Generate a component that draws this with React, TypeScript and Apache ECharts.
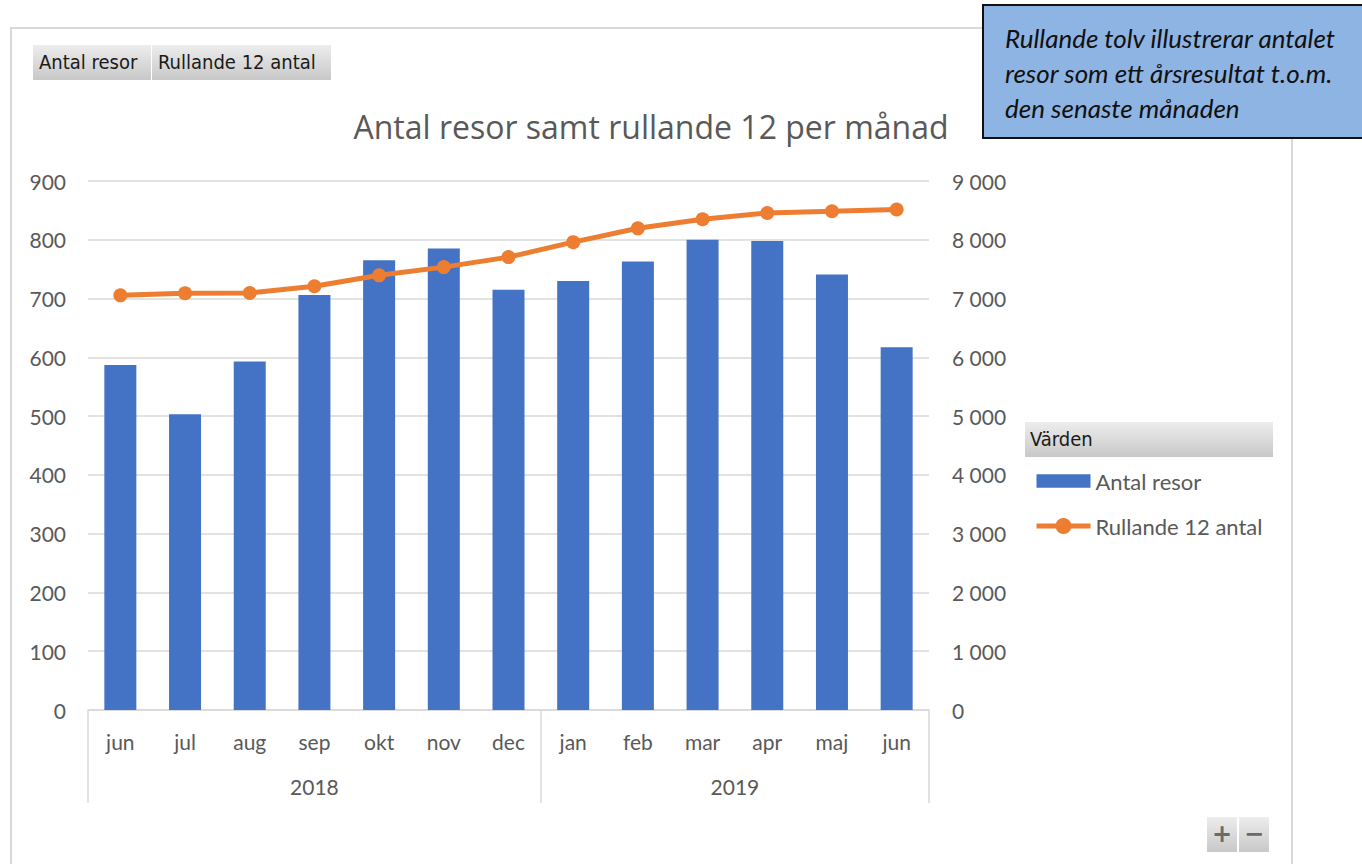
import React, { useEffect, useRef } from "react";
import * as echarts from "echarts";

const months = ["jun", "jul", "aug", "sep", "okt", "nov", "dec", "jan", "feb", "mar", "apr", "maj", "jun"];
const years = ["2018", "2019"];
const yearSpans = [7, 6];
const antalResor = [587, 503, 593, 706, 765, 785, 715, 730, 763, 800, 798, 741, 617];
const rullande12 = [7055, 7090, 7095, 7210, 7395, 7535, 7705, 7960, 8195, 8350, 8455, 8485, 8515];
const leftTicks = { min: 0, max: 900, interval: 100 };
const rightTicks = { min: 0, max: 9000, interval: 1000 };

const FONT = "Lato, 'Open Sans', sans-serif";
const GRAY = "#595959";
const LINE = "#d9d9d9";
const BTN_FONT = "20px 'DejaVu Sans Condensed', 'DejaVu Sans', sans-serif";

export default function App() {
  const ref = useRef<HTMLDivElement>(null);
  useEffect(() => {
    document.body.style.margin = "0";
    const chart = echarts.init(ref.current!, null, { renderer: "svg" });
    const bounds: number[] = [0];
    yearSpans.forEach((s) => bounds.push(bounds[bounds.length - 1] + s));
    const centers = yearSpans.map((s, i) => bounds[i] + s / 2);
    const btnGrad = () =>
      new echarts.graphic.LinearGradient(0, 0, 0, 1, [
        { offset: 0, color: "#ededed" },
        { offset: 1, color: "#c8c8c8" },
      ]);
    const option: any = {
      animation: false,
      textStyle: { fontFamily: FONT },
      grid: { left: 88, right: 433, top: 181, bottom: 154, containLabel: false },
      xAxis: [
        {
          type: "category",
          data: months,
          position: "bottom",
          axisLine: { lineStyle: { color: LINE, width: 1.5 } },
          axisTick: { show: false },
          axisLabel: { color: GRAY, fontSize: 21, margin: 21, fontFamily: FONT },
        },
        {
          type: "value",
          min: 0,
          max: months.length,
          position: "bottom",
          offset: 0,
          axisLine: { show: false },
          splitLine: { show: false },
          axisTick: {
            show: true,
            length: 93,
            customValues: bounds,
            lineStyle: { color: LINE, width: 1.5 },
          },
          axisLabel: {
            customValues: centers,
            margin: 66,
            color: GRAY,
            fontSize: 21,
            fontFamily: FONT,
            formatter: (v: number) => {
              const i = centers.findIndex((c) => Math.abs(c - v) < 1e-6);
              return i >= 0 ? years[i] : "";
            },
          },
        },
      ],
      yAxis: [
        {
          type: "value",
          ...leftTicks,
          axisLine: { show: false },
          axisTick: { show: false },
          splitLine: { lineStyle: { color: LINE, width: 1.5 } },
          axisLabel: { color: GRAY, fontSize: 21, margin: 22, fontFamily: FONT },
        },
        {
          type: "value",
          ...rightTicks,
          axisLine: { show: false },
          axisTick: { show: false },
          splitLine: { show: false },
          axisLabel: {
            color: GRAY,
            fontSize: 21,
            margin: 23,
            fontFamily: FONT,
            formatter: (v: number) => String(v).replace(/\B(?=(\d{3})+(?!\d))/g, " "),
          },
        },
      ],
      legend: {
        orient: "vertical",
        left: 1034,
        top: 470,
        padding: 0,
        itemWidth: 54,
        itemHeight: 20,
        itemGap: 23,
        symbolKeepAspect: true,
        lineStyle: { width: 5 },
        textStyle: { color: GRAY, fontSize: 22, fontFamily: FONT, lineHeight: 20 },
        data: [
          { name: "Antal resor", icon: "path://M0,0H52V13H0Z" },
          { name: "Rullande 12 antal" },
        ],
      },
      series: [
        {
          name: "Antal resor",
          type: "bar",
          data: antalResor,
          barWidth: 32,
          itemStyle: { color: "#4472C4" },
          xAxisIndex: 0,
          yAxisIndex: 0,
        },
        {
          name: "Rullande 12 antal",
          type: "line",
          data: rullande12,
          xAxisIndex: 0,
          yAxisIndex: 1,
          symbol: "circle",
          symbolSize: 14,
          lineStyle: { color: "#ED7D31", width: 5 },
          itemStyle: { color: "#ED7D31" },
          z: 5,
        },
      ],
      graphic: [
        { type: "rect", shape: { x: 11, y: 28, width: 1281, height: 900 }, style: { fill: "none", stroke: "#d9d9d9", lineWidth: 2 }, z: -10 },
        {
          type: "text",
          x: 651,
          y: 126,
          style: { text: "Antal resor samt rullande 12 per månad", fill: GRAY, font: "32px 'Open Sans', Lato, sans-serif", textAlign: "center", textVerticalAlign: "middle" },
        },
        { type: "rect", shape: { x: 33, y: 45, width: 118, height: 35 }, style: { fill: btnGrad() } },
        { type: "text", x: 39, y: 62, style: { text: "Antal resor", fill: "#1a1a1a", font: BTN_FONT, textVerticalAlign: "middle" } },
        { type: "rect", shape: { x: 152, y: 45, width: 179, height: 35 }, style: { fill: btnGrad() } },
        { type: "text", x: 158, y: 62, style: { text: "Rullande 12 antal", fill: "#1a1a1a", font: BTN_FONT, textVerticalAlign: "middle" } },
        { type: "rect", shape: { x: 1025, y: 422, width: 248, height: 35 }, style: { fill: btnGrad() } },
        { type: "text", x: 1030, y: 439, style: { text: "Värden", fill: "#1a1a1a", font: BTN_FONT, textVerticalAlign: "middle" } },
        { type: "rect", shape: { x: 1207, y: 817, width: 30, height: 35 }, style: { fill: btnGrad() } },
        { type: "text", x: 1222, y: 834, style: { text: "+", fill: "#6a6a6a", font: "bold 24px 'DejaVu Sans', sans-serif", textAlign: "center", textVerticalAlign: "middle" } },
        { type: "rect", shape: { x: 1239, y: 817, width: 30, height: 35 }, style: { fill: btnGrad() } },
        { type: "text", x: 1254, y: 834, style: { text: "−", fill: "#6a6a6a", font: "bold 24px 'DejaVu Sans', sans-serif", textAlign: "center", textVerticalAlign: "middle" } },
        { type: "rect", shape: { x: 983, y: 5, width: 390, height: 133 }, style: { fill: "#8EB4E3", stroke: "#111111", lineWidth: 2 }, z: 20 },
        {
          type: "text",
          x: 1005,
          y: 20,
          z: 21,
          style: {
            text: "Rullande tolv illustrerar antalet\nresor som ett årsresultat t.o.m.\nden senaste månaden",
            fill: "#111111",
            font: `italic 26px ${FONT}`,
            lineHeight: 35,
            textVerticalAlign: "top",
          },
        },
      ],
    };
    chart.setOption(option);
    return () => chart.dispose();
  }, []);
  return <div ref={ref} style={{ position: "absolute", left: 0, top: 0, width: 1362, height: 864 }} />;
}
